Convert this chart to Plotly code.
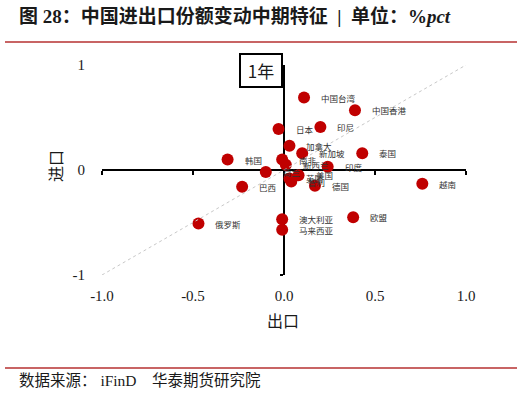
import plotly.graph_objects as go

# ---- data ----
countries = ["中国台湾", "中国香港", "日本", "印尼", "加拿大", "新加坡", "泰国", "韩国",
             "南非", "新西兰", "荷兰", "印度", "巴西", "德国", "越南", "俄罗斯",
             "澳大利亚", "马来西亚", "欧盟", "美国", "英国", "智利"]
export_chg = [0.11, 0.39, -0.03, 0.20, 0.03, 0.10, 0.43, -0.31,
              -0.01, 0.01, -0.10, 0.24, -0.23, 0.17, 0.76, -0.47,
              -0.01, -0.01, 0.38, 0.08, 0.03, 0.04]
import_chg = [0.69, 0.57, 0.39, 0.41, 0.23, 0.16, 0.16, 0.10,
              0.10, 0.05, -0.02, 0.03, -0.16, -0.15, -0.13, -0.51,
              -0.47, -0.57, -0.45, -0.05, -0.08, -0.11]
diag = [-1, 1]
x_ticks = [-1, -0.5, 0, 0.5, 1]
x_tick_text = ["-1.0", "-0.5", "0.0", "0.5", "1.0"]
y_ticks = [-1, 0, 1]
y_tick_text = ["-1", "0", "1"]

W, H = 522, 393
L, R, T, B = 102, 466, 65, 275


def px(x):
    return (x - L) / (R - L)


def py(y):
    return (B - y) / (B - T)


fig = go.Figure()
# diagonal reference line drawn on the overlay axes (which carry the zero-crossing axis lines)
fig.add_trace(go.Scatter(x=diag, y=diag, mode="lines", xaxis="x2", yaxis="y2",
                         line=dict(color="#C8C8C8", width=1, dash="dot"),
                         hoverinfo="skip", showlegend=False))
fig.add_trace(go.Scatter(x=export_chg, y=import_chg, mode="markers",
                         marker=dict(color="#C00000", size=12, line=dict(width=0)),
                         text=countries, showlegend=False))

ann = []
for name, xv, yv in zip(countries, export_chg, import_chg):
    ann.append(dict(x=xv, y=yv, xref="x", yref="y", text=name, showarrow=False,
                    xanchor="left", yanchor="middle", xshift=15,
                    font=dict(family="Noto Sans CJK SC", size=8.5, color="#333333")))

serif = "Liberation Serif, Noto Sans CJK SC"
ann += [
    dict(x=px(17), y=py(16), xref="paper", yref="paper", xanchor="left", yanchor="middle",
         showarrow=False, text="<b>图 28：中国进出口份额变动中期特征  |  单位：%<i>pct</i></b>",
         font=dict(family=serif, size=19, color="#1a1a1a")),
    dict(x=px(17), y=py(380), xref="paper", yref="paper", xanchor="left", yanchor="middle",
         showarrow=False, text="数据来源： iFinD    华泰期货研究院",
         font=dict(family=serif, size=15.5, color="#1a1a1a")),
    dict(x=px(283), y=py(320), xref="paper", yref="paper", xanchor="center", yanchor="middle",
         showarrow=False, text="出口",
         font=dict(family="Noto Sans CJK SC", size=16, color="#1a1a1a")),
    dict(x=px(55), y=py(166), xref="paper", yref="paper", xanchor="center", yanchor="middle",
         showarrow=False, text="进口", textangle=-90,
         font=dict(family="Noto Sans CJK SC", size=16, color="#1a1a1a")),
    dict(x=px(260.5), y=py(70), xref="paper", yref="paper", xanchor="center", yanchor="middle",
         showarrow=False, text=" 1年 ", bordercolor="#000000", borderwidth=2, borderpad=3,
         bgcolor="#FFFFFF",
         font=dict(family="Noto Sans CJK SC", size=17, color="#1a1a1a")),
]

shapes = [
    dict(type="line", xref="paper", yref="paper", x0=px(5), x1=px(517), y0=py(42), y1=py(42),
         line=dict(color="#C86464", width=2)),
    dict(type="line", xref="paper", yref="paper", x0=px(5), x1=px(517), y0=py(368), y1=py(368),
         line=dict(color="#C86464", width=2)),
]

tickfont = dict(family="Liberation Serif", size=15, color="#1a1a1a")
fig.update_layout(
    width=W, height=H,
    margin=dict(l=L, r=W - R, t=T, b=H - B),
    paper_bgcolor="white", plot_bgcolor="white",
    annotations=ann, shapes=shapes,
    xaxis=dict(range=[-1, 1], domain=[0, 1], showgrid=False, zeroline=False, showline=False,
               tickvals=x_ticks, ticktext=x_tick_text, ticks="", tickfont=tickfont,
               ticklabelstandoff=10, fixedrange=True),
    yaxis=dict(range=[-1, 1], domain=[0, 1], showgrid=False, zeroline=False, showline=False,
               tickvals=y_ticks, ticktext=y_tick_text, ticks="", tickfont=tickfont,
               ticklabelstandoff=16, fixedrange=True),
    xaxis2=dict(range=[-1, 1], overlaying="x", anchor="free", position=0.5,
                showgrid=False, zeroline=False, showline=True, linecolor="#000000", linewidth=2,
                tickvals=x_ticks, ticks="outside", ticklen=4, tickwidth=1.5, tickcolor="#000000",
                showticklabels=False, layer="below traces", fixedrange=True),
    yaxis2=dict(range=[-1, 1], overlaying="y", anchor="free", position=0.5, side="left",
                showgrid=False, zeroline=False, showline=True, linecolor="#000000", linewidth=2,
                tickvals=y_ticks, ticks="outside", ticklen=3, tickwidth=1.5, tickcolor="#000000",
                showticklabels=False, layer="below traces", fixedrange=True),
)
fig.write_html("out.html")
